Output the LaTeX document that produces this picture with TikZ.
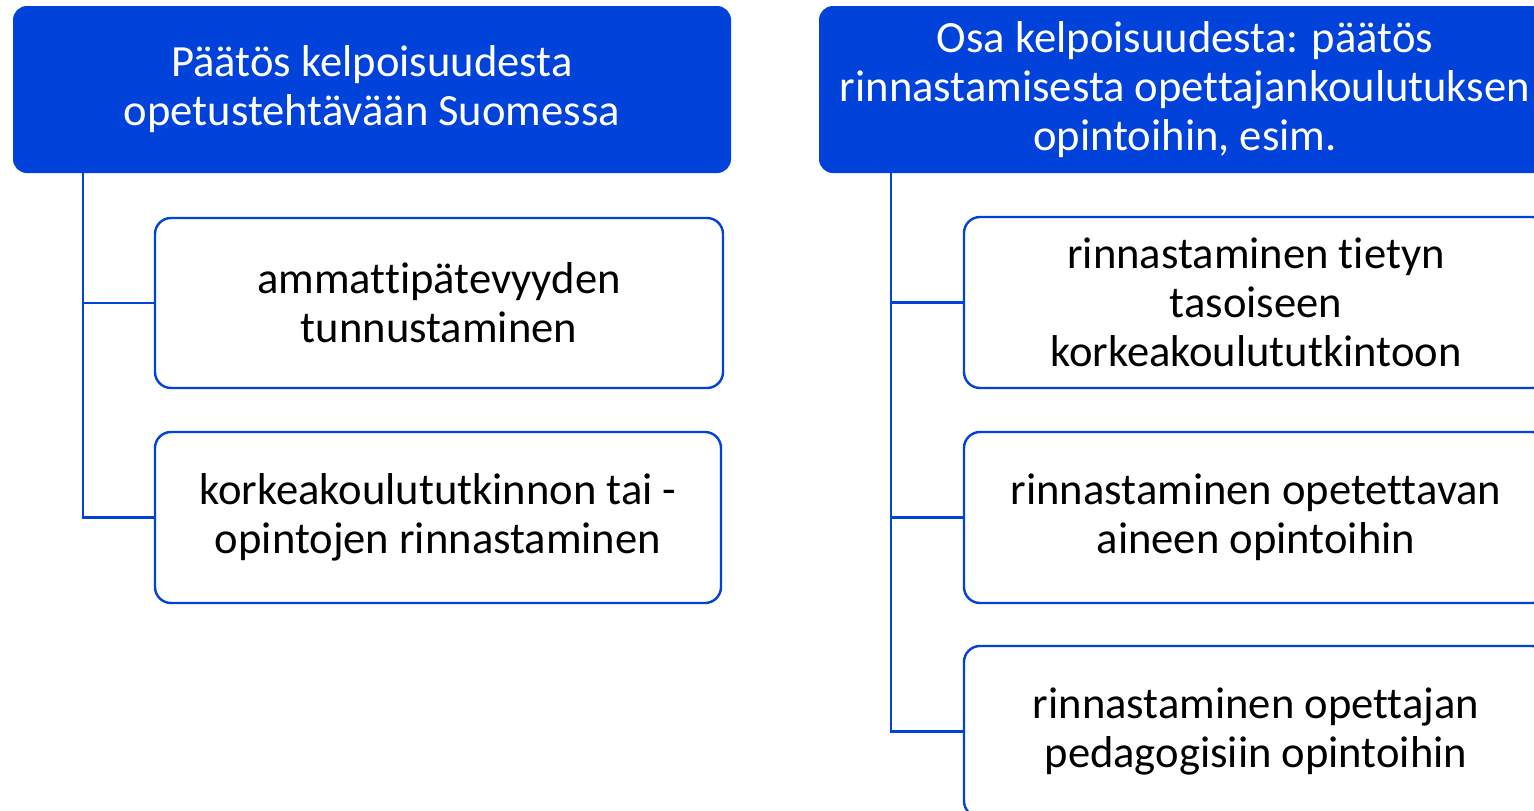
\documentclass[tikz,border=0pt]{standalone}
\usepackage{fontspec}
\setmainfont{Carlito}[Ligatures={NoCommon}]
\usetikzlibrary{calc}
\definecolor{hdrblue}{RGB}{0,66,218}
\definecolor{lineblue}{RGB}{0,66,218}
\begin{document}
\begin{tikzpicture}[x=1pt,y=-1pt,
  header/.style={rectangle, rounded corners=14pt, fill=hdrblue, draw=none, text=white,
    align=center, font=\fontsize{44.6pt}{49pt}\selectfont, inner sep=0pt},
  child/.style={rectangle, rounded corners=16pt, draw=lineblue, line width=2.4pt, fill=white,
    text=black, align=center, font=\fontsize{44.6pt}{49pt}\selectfont, inner sep=0pt},
  conn/.style={draw=lineblue, line width=2.4pt}]
\useasboundingbox (0,0) rectangle (1534,811);
\clip (0,0) rectangle (1534,811);
% headers
\node[header, minimum width=718pt, minimum height=167pt] (lh) at (372,89.5)
  {Päätös kelpoisuudesta\\opetustehtävään Suomessa};
\node[header, minimum width=732pt, minimum height=167pt] (rh) at (1185,89.5)
  {Osa kelpoisuudesta: päätös\\rinnastamisesta opettajankoulutuksen\\opintoihin, esim.};
% left children
\node[child, minimum width=568pt, minimum height=170pt] (l1) at (439,303)
  {ammattipätevyyden\\tunnustaminen};
\node[child, minimum width=566pt, minimum height=171pt] (l2) at (438,517.5)
  {korkeakoulututkinnon tai -\\opintojen rinnastaminen};
% right children
\node[child, minimum width=584pt, minimum height=171pt] (r1) at (1256,302.5)
  {rinnastaminen tietyn\\tasoiseen\\korkeakoulututkintoon};
\node[child, minimum width=584pt, minimum height=171pt] (r2) at (1256,517.5)
  {rinnastaminen opetettavan\\aineen opintoihin};
\node[child, minimum width=584pt, minimum height=171pt] (r3) at (1256,731.5)
  {rinnastaminen opettajan\\pedagogisiin opintoihin};
% connectors
\coordinate (lt) at ($(lh.south west)+(70,0)$);
\coordinate (rt) at ($(rh.south west)+(72,0)$);
\draw[conn] (lt) |- (l1.west);
\draw[conn] (lt) |- (l2.west);
\draw[conn] (rt) |- (r1.west);
\draw[conn] (rt) |- (r2.west);
\draw[conn] (rt) |- (r3.west);
\end{tikzpicture}
\end{document}
